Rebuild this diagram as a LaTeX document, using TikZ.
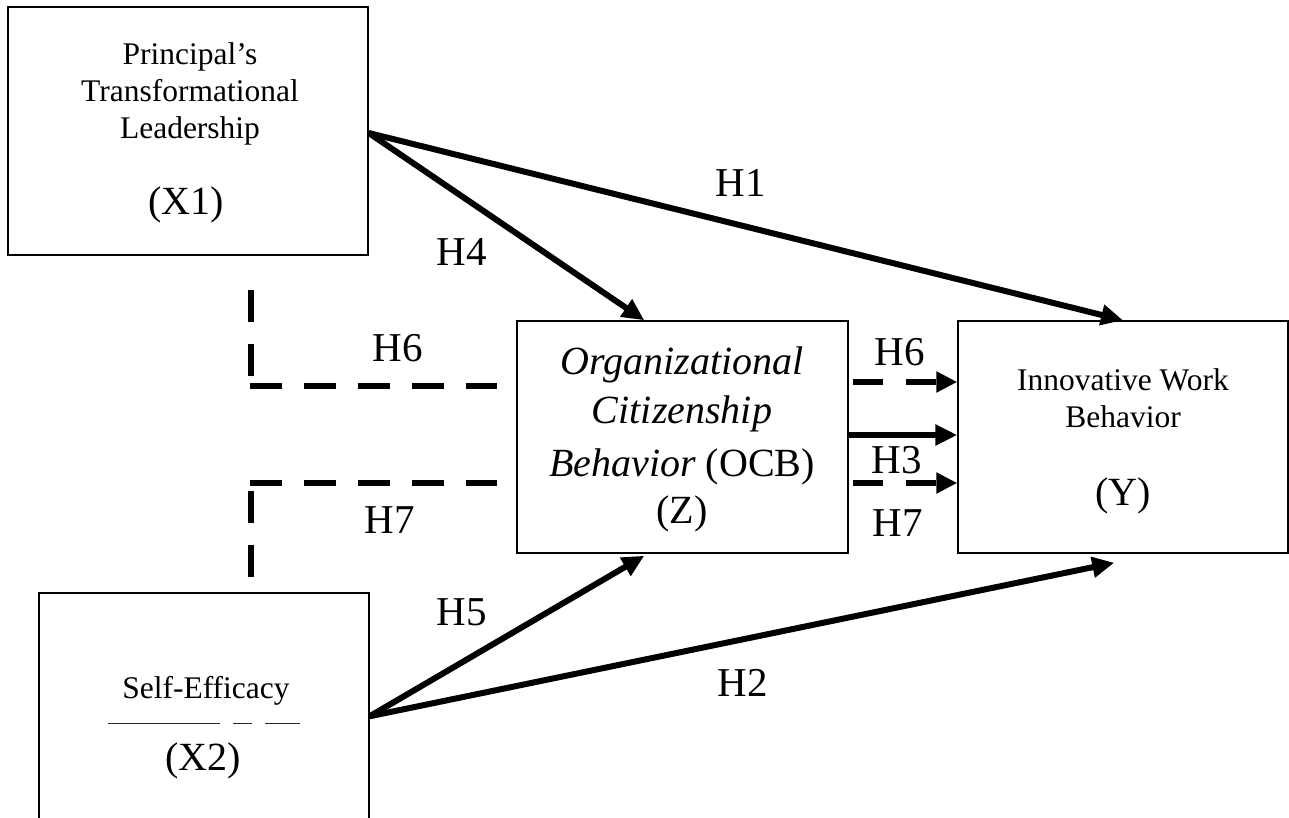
\documentclass[tikz,border=0pt]{standalone}
\usepackage{fontspec}
\setmainfont{Liberation Serif}
\usetikzlibrary{arrows.meta,calc}
\begin{document}
\begin{tikzpicture}[x=1pt,y=-1pt,
  box/.style={draw,line width=1.5pt,inner sep=0pt,minimum width=#1},
  txt/.style={font=\fontsize{31.5}{36}\selectfont,anchor=base,inner sep=0pt},
  ztxt/.style={font=\fontsize{40}{46}\selectfont,anchor=base,inner sep=0pt},
  big/.style={font=\fontsize{40}{46}\selectfont,inner sep=0pt},
  hlab/.style={font=\fontsize{41}{46}\selectfont,inner sep=0pt},
  solidarrow/.style={line width=6pt,-{Triangle[length=22pt,width=20pt]}},
  dasharrow/.style={line width=6pt,dash pattern=on 30pt off 23pt,-{Triangle[length=21pt,width=20pt]}},
  dashline/.style={line width=6pt,dash pattern=on 32pt off 22pt}]
\clip (0,0) rectangle (1289,818);
\fill[white] (0,0) rectangle (1289,818);

% boxes
\node[box=360pt,minimum height=248pt] (x1) at (188,131) {};
\node[box=330pt,minimum height=247pt] (x2) at (204,716.5) {};
\node[box=331pt,minimum height=232pt] (z) at (682.5,437) {};
\node[box=330pt,minimum height=232pt] (y) at (1123,437) {};

% box texts
\node[txt] (t1a) at (190,65) {Principal’s};
\node[txt] (t1b) at (190,102) {Transformational};
\node[txt] (t1c) at (190,139) {Leadership};
\node[big] (t1d) at (186,205) {(X1)};

\node[txt] (t2a) at (206,698) {Self-Efficacy};
\node[big] (t2b) at (203,761) {(X2)};
\draw[line width=1.5pt,black!85] (108,723.5) -- (220,723.5) (233,723.5) -- (252,723.5) (265,723.5) -- (300,723.5);

\node[ztxt] (tza) at (682,374) {\itshape Organizational};
\node[ztxt] (tzb) at (682,423) {\itshape Citizenship};
\node[ztxt] (tzc) at (682,476) {\textit{Behavior} (OCB)};
\node[big] (tzd) at (682,514) {(Z)};

\node[txt] (tya) at (1123,390) {Innovative Work};
\node[txt] (tyb) at (1123,427) {Behavior};
\node[big] (tyc) at (1123,496) {(Y)};

% anchor coordinates
\coordinate (s1) at ($(x1.east)+(0,2)$);
\coordinate (s2) at ($(x2.north east)+(0,124)$);
\coordinate (h4end) at ($(z.north west)+(128,0)$);
\coordinate (h5end) at ($(z.south west)+(128,2)$);
\coordinate (h2end) at ($(y.south west)+(157,9)$);

% solid arrows
\draw[solidarrow] (s1) -- (y.north);
\draw[solidarrow] (s1) -- (h4end);
\draw[solidarrow] (s2) -- (h5end);
\draw[solidarrow] (s2) -- (h2end);
\draw[solidarrow] ($(z.east)+(0,-2)$) -- ($(y.west)+(0,-2)$);

% dashed arrows on the right
\draw[dasharrow] ($(z.east)+(4,-55)$) -- ($(y.west)+(0,-55)$);
\draw[dasharrow] ($(z.east)+(4,46)$) -- ($(y.west)+(0,46)$);

% dashed lines on the left
\coordinate (v6a) at (251,290);
\coordinate (v6b) at (251,376);
\coordinate (h6a) at (250,386);
\coordinate (h6b) at ($(z.west)+(-19,-51)$);
\coordinate (h7a) at (250,483);
\coordinate (h7b) at ($(z.west)+(-19,46)$);
\coordinate (v7a) at (251,491);
\coordinate (v7b) at (251,577);
\draw[dashline] (v6a) -- (v6b);
\draw[dashline] (h6a) -- (h6b);
\draw[dashline] (h7a) -- (h7b);
\draw[dashline] (v7a) -- (v7b);

% hypothesis labels
\node[hlab] (lh1) at (741,183) {H1};
\node[hlab] (lh4) at (462,252) {H4};
\node[hlab] (lh6a) at (398,348) {H6};
\node[hlab] (lh7a) at (390,520) {H7};
\node[hlab] (lh5) at (462,612) {H5};
\node[hlab] (lh2) at (743,683) {H2};
\node[hlab] (lh6b) at (900,352) {H6};
\node[hlab] (lh3) at (897,460) {H3};
\node[hlab] (lh7b) at (898,523) {H7};
\end{tikzpicture}
\end{document}
